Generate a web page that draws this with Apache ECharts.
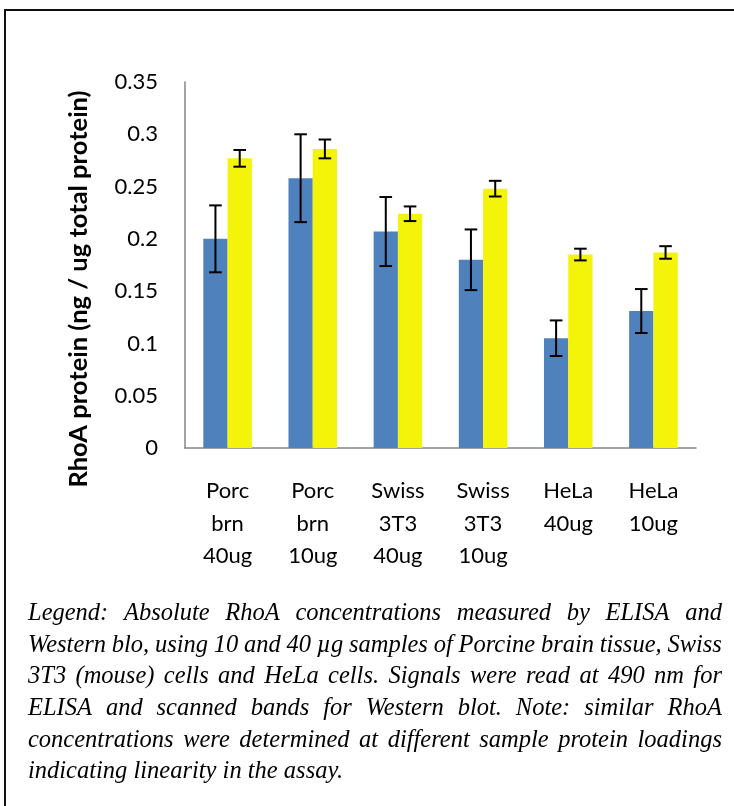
<!DOCTYPE html>
<html>
<head>
<meta charset="utf-8">
<script src="https://cdn.jsdelivr.net/npm/echarts@6/dist/echarts.min.js"></script>
<style>
  html, body { margin:0; padding:0; background:#fff; }
  #frame { position:absolute; left:4px; top:9px; width:900px; height:900px; border-left:2px solid #111; border-top:2px solid #111; box-sizing:border-box; }
  #chart { position:absolute; left:0; top:0; width:734px; height:806px; }
  #caption { position:absolute; left:28px; top:596px; width:694px; font-family:"Liberation Serif","Times New Roman",serif; font-style:italic; font-size:24.5px; line-height:31.7px; color:#000; }
  .jl { display:flex; justify-content:space-between; height:31.7px; white-space:nowrap; }
  .ll { white-space:pre; height:31.7px; }
</style>
</head>
<body>
<div id="frame"></div>
<div id="chart"></div>
<div id="caption"></div>
<script>
// ---- data ----
var categories = ['Porc\nbrn\n40ug', 'Porc\nbrn\n10ug', 'Swiss\n3T3\n40ug', 'Swiss\n3T3\n10ug', 'HeLa\n40ug', 'HeLa\n10ug'];
var blueValues = [0.200, 0.258, 0.207, 0.180, 0.105, 0.131];
var blueErrors = [0.032, 0.042, 0.033, 0.029, 0.017, 0.021];
var yellowValues = [0.277, 0.286, 0.224, 0.248, 0.185, 0.187];
var yellowErrors = [0.008, 0.009, 0.007, 0.0075, 0.0056, 0.006];
var yTitle = 'RhoA protein (ng / ug total protein)';
var captionLines = [
  'Legend: Absolute RhoA concentrations measured by ELISA and',
  'Western blo, using 10 and 40 \u00b5g samples of Porcine brain tissue, Swiss',
  '3T3 (mouse) cells and HeLa cells. Signals were read at 490 nm for',
  'ELISA and scanned bands for Western blot. Note: similar RhoA',
  'concentrations were determined at different sample protein loadings',
  'indicating linearity in the assay.'
];

// ---- caption (justified lines) ----
var cap = document.getElementById('caption');
captionLines.forEach(function (line, i) {
  var d = document.createElement('div');
  if (i < captionLines.length - 1) {
    d.className = 'jl';
    line.split(' ').forEach(function (w) {
      var s = document.createElement('span');
      s.textContent = w;
      d.appendChild(s);
    });
  } else {
    d.className = 'll';
    d.textContent = line;
  }
  cap.appendChild(d);
});

// ---- chart ----
var CAT_GAP = 0.43;
function errRender(sign) {
  return function (params, api) {
    var ci = api.value(0), v = api.value(1), e = api.value(2);
    var c = api.coord([ci, v]);
    var band = api.size([1, 0])[0];
    var bw = band * (1 - CAT_GAP) / 2;
    var x = c[0] + sign * bw / 2;
    var yt = api.coord([ci, v + e])[1];
    var yb = api.coord([ci, v - e])[1];
    var hw = 6.3;
    var st = { stroke: '#000', lineWidth: 2 };
    return {
      type: 'group',
      children: [
        { type: 'line', shape: { x1: x, y1: yt, x2: x, y2: yb }, style: st },
        { type: 'line', shape: { x1: x - hw, y1: yt, x2: x + hw, y2: yt }, style: st },
        { type: 'line', shape: { x1: x - hw, y1: yb, x2: x + hw, y2: yb }, style: st }
      ]
    };
  };
}
function errData(vals, errs) {
  return vals.map(function (v, i) { return [i, v, errs[i]]; });
}

var chart = echarts.init(document.getElementById('chart'), null, { renderer: 'canvas' });
chart.setOption({
  animation: false,
  grid: { left: 185, right: 38, top: 82, bottom: 358, containLabel: false },
  xAxis: {
    type: 'category',
    data: categories,
    axisLine: { lineStyle: { color: '#868686', width: 1.5 } },
    axisTick: { show: false },
    axisLabel: { color: '#000', fontFamily: 'Lato, sans-serif', fontSize: 22, lineHeight: 32.5, margin: 27, interval: 0 }
  },
  yAxis: {
    type: 'value',
    min: 0, max: 0.35, interval: 0.05,
    axisLine: { show: true, lineStyle: { color: '#868686', width: 1.5 } },
    axisTick: { show: false },
    splitLine: { show: false },
    axisLabel: { color: '#000', fontFamily: 'Lato, sans-serif', fontSize: 22, margin: 27 }
  },
  graphic: [{
    type: 'text',
    x: 79, y: 289,
    rotation: Math.PI / 2,
    style: {
      text: yTitle,
      fill: '#000',
      font: 'bold 25.5px Lato, sans-serif',
      align: 'center',
      verticalAlign: 'middle'
    }
  }],
  series: [
    { name: 'ELISA', type: 'bar', data: blueValues, barGap: '0%', barCategoryGap: (CAT_GAP * 100) + '%', itemStyle: { color: '#4F81BD' } },
    { name: 'Western blot', type: 'bar', data: yellowValues, itemStyle: { color: '#F4F40A' } },
    { name: 'ELISA error', type: 'custom', renderItem: errRender(-1), data: errData(blueValues, blueErrors), encode: { x: 0, y: 1 }, z: 5 },
    { name: 'Western blot error', type: 'custom', renderItem: errRender(1), data: errData(yellowValues, yellowErrors), encode: { x: 0, y: 1 }, z: 5 }
  ]
});
</script>
</body>
</html>
